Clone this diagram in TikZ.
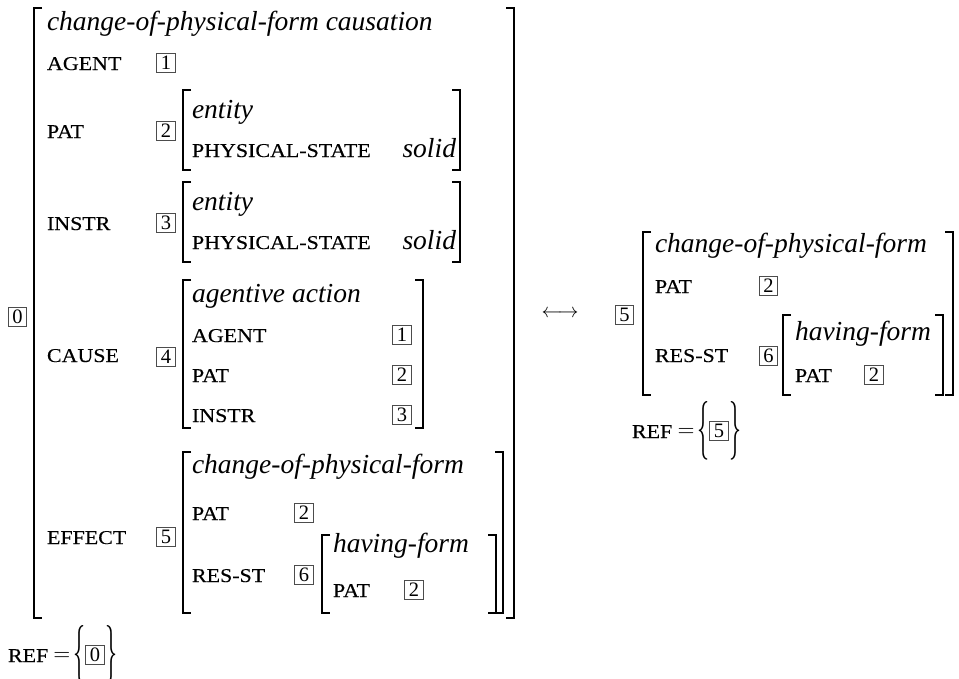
\documentclass[tikz,border=0pt]{standalone}
\usepackage{fontspec}
\setmainfont{Liberation Serif}
\newfontfamily\avmcaps[FakeStretch=1.12,FakeBold=0.3]{Liberation Serif}
\usepackage{graphicx}
\newcommand\avmlb[3]{\draw[brk] (#1+8,#2) -- (#1,#2) -- (#1,#3) -- (#1+8,#3);}
\newcommand\avmrb[3]{\draw[brk] (#1-8,#2) -- (#1,#2) -- (#1,#3) -- (#1-8,#3);}
\begin{document}
\begin{tikzpicture}[x=1pt,y=-1pt,
  every node/.style={inner sep=0pt,outer sep=0pt},
  typ/.style={anchor=base west,font=\fontsize{27.5}{30}\selectfont\itshape},
  typr/.style={anchor=base east,font=\fontsize{27.5}{30}\selectfont\itshape},
  feat/.style={anchor=base west,font=\fontsize{19.6}{22}\selectfont\avmcaps},
  tagbox/.style={draw=black!70,line width=0.9pt,minimum width=18.5pt,minimum height=18.5pt,font=\fontsize{20.5}{22}\selectfont},
  brk/.style={line width=2.4pt,line cap=butt,line join=miter},
  sym/.style={anchor=center}]
\useasboundingbox (0,0) rectangle (959,678);
% ---------- outer AVM ----------
\node[tagbox] (t0) at (17.5,317) {0};
\avmlb{34}{8}{618}
\avmrb{514}{8}{618}
\node[typ] (otype) at (47,30) {change-of-physical-form causation};
\node[feat] (fagent) at (47,70) {AGENT};
\node[tagbox] (bagent) at (166,63) {1};
% PAT
\node[feat] (fpat) at (47,138) {PAT};
\node[tagbox] (bpat) at (166,131) {2};
\avmlb{183}{90}{170}
\avmrb{460}{90}{170}
\node[typ] (pattype) at (192,118) {entity};
\node[feat] (patps) at (192,157) {PHYSICAL-STATE};
\node[typr] (patval) at (456,157) {solid};
% INSTR
\node[feat] (finstr) at (47,230) {INSTR};
\node[tagbox] (binstr) at (166,223) {3};
\avmlb{183}{182}{262}
\avmrb{460}{182}{262}
\node[typ] (instrtype) at (192,210) {entity};
\node[feat] (instrps) at (192,249) {PHYSICAL-STATE};
\node[typr] (instrval) at (456,249) {solid};
% CAUSE
\node[feat] (fcause) at (47,362) {CAUSE};
\node[tagbox] (bcause) at (166,357) {4};
\avmlb{183}{280}{428}
\avmrb{423}{280}{428}
\node[typ] (causetype) at (192,302) {agentive action};
\node[feat] (cagent) at (192,342) {AGENT};
\node[tagbox] (cbagent) at (402,335) {1};
\node[feat] (cpat) at (192,382) {PAT};
\node[tagbox] (cbpat) at (402,375) {2};
\node[feat] (cinstr) at (192,422) {INSTR};
\node[tagbox] (cbinstr) at (402,415) {3};
% EFFECT
\node[feat] (feffect) at (47,544) {EFFECT};
\node[tagbox] (beffect) at (166,537) {5};
\avmlb{183}{452}{613}
\avmrb{503}{452}{613}
\node[typ] (efftype) at (192,473) {change-of-physical-form};
\node[feat] (epat) at (192,520) {PAT};
\node[tagbox] (ebpat) at (304,513) {2};
\node[feat] (eres) at (192,582) {RES-ST};
\node[tagbox] (ebres) at (304,575) {6};
\avmlb{322}{535}{613}
\avmrb{496}{535}{613}
\node[typ] (hftype) at (333,552) {having-form};
\node[feat] (hpat) at (333,597) {PAT};
\node[tagbox] (hbpat) at (414,590) {2};
% REF left
\node[feat] (refl) at (8,662) {REF};
\node[sym] (eql) at (62,656) {\resizebox{17pt}{!}{$=$}};
\node[sym] (lbl) at (79,655) {\resizebox{12pt}{44pt}{$\{$}};
\node[tagbox] (refbl) at (95,655) {0};
\node[sym] (rbl) at (111,655) {\resizebox{12pt}{44pt}{$\}$}};
% ---------- arrow ----------
\node[sym] (arrow) at (560,314) {\resizebox{37pt}{!}{$\longleftrightarrow$}};
% ---------- right AVM ----------
\node[tagbox] (rb5) at (624.5,315) {5};
\avmlb{643}{232}{395}
\avmrb{953}{232}{395}
\node[typ] (rtype) at (655,252) {change-of-physical-form};
\node[feat] (rpat) at (655,293) {PAT};
\node[tagbox] (rbpat) at (768.5,286) {2};
\node[feat] (rres) at (655,362) {RES-ST};
\node[tagbox] (rbres) at (768.5,356) {6};
\avmlb{783}{315}{395}
\avmrb{943}{315}{395}
\node[typ] (rhf) at (795,340) {having-form};
\node[feat] (rhpat) at (795,382) {PAT};
\node[tagbox] (rhbpat) at (874,375) {2};
% REF right
\node[feat] (refr) at (632,438) {REF};
\node[sym] (eqr) at (686,432) {\resizebox{17pt}{!}{$=$}};
\node[sym] (lbr) at (703,431) {\resizebox{12pt}{44pt}{$\{$}};
\node[tagbox] (refbr) at (719,431) {5};
\node[sym] (rbr) at (735,431) {\resizebox{12pt}{44pt}{$\}$}};
\end{tikzpicture}
\end{document}
